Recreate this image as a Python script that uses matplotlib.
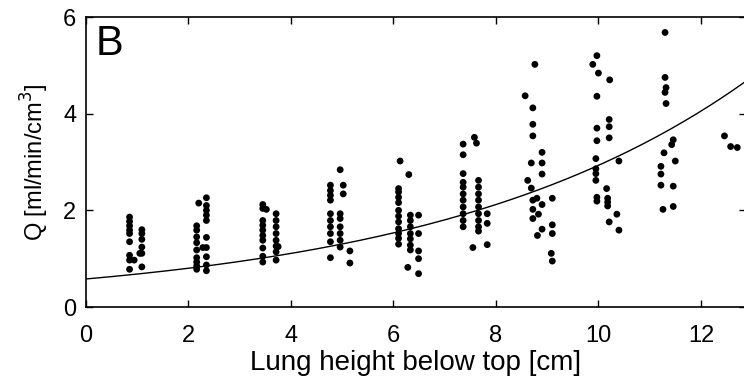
import matplotlib
matplotlib.use('Agg')
import matplotlib.pyplot as plt
import numpy as np

plt.rcParams['font.family'] = ['Liberation Sans', 'DejaVu Sans']

# measured blood flow per lung height level (x in cm, Q in ml/min/cm^3)
height = [0.85, 0.85, 0.85, 0.85, 0.85, 0.85, 0.85, 0.85, 0.85, 0.94,
          1.09, 1.09, 1.09, 1.09, 1.09, 1.09, 1.05,
          2.16, 2.16, 2.16, 2.16, 2.16, 2.16, 2.16, 2.16, 2.16, 2.20,
          2.35, 2.35, 2.35, 2.35, 2.35, 2.35, 2.35, 2.35, 2.35, 2.35, 2.28,
          3.45, 3.45, 3.45, 3.45, 3.45, 3.45, 3.45, 3.45, 3.45, 3.45, 3.52,
          3.71, 3.71, 3.71, 3.71, 3.71, 3.71, 3.71, 3.71, 3.75,
          4.77, 4.77, 4.77, 4.77, 4.77, 4.77, 4.77, 4.77, 4.77, 4.77,
          4.96, 4.96, 4.96, 4.96, 4.96, 4.96, 4.96, 5.02, 5.02, 5.15, 5.15,
          6.13, 6.10, 6.10, 6.10, 6.10, 6.10, 6.10, 6.10, 6.10, 6.10, 6.10, 6.10,
          6.30, 6.33, 6.33, 6.33, 6.33, 6.33, 6.33, 6.33, 6.28,
          6.49, 6.49, 6.49, 6.49, 6.49,
          7.36, 7.36, 7.36, 7.36, 7.36, 7.36, 7.36, 7.36, 7.36, 7.36, 7.36,
          7.58, 7.62, 7.55,
          7.66, 7.66, 7.66, 7.66, 7.66, 7.66, 7.66, 7.66, 7.66,
          7.83, 7.83, 7.83,
          8.57, 8.76, 8.72, 8.72, 8.72, 8.90, 8.69, 8.90, 8.90, 8.62, 8.69,
          8.72, 8.80, 9.10, 8.72, 8.90, 8.83, 8.72, 8.90, 8.81, 9.10, 9.10,
          9.08, 9.10,
          9.97, 9.89, 10.00, 10.22, 9.97, 10.21, 10.21, 10.21, 9.97, 9.97,
          10.40, 9.95, 9.95, 9.95, 9.95, 9.97, 9.97, 10.16, 10.18, 10.18,
          10.18, 10.36, 10.21, 10.40,
          11.30, 11.30, 11.32, 11.30, 11.32, 11.46, 11.43, 11.28, 11.50,
          11.22, 11.22, 11.22, 11.46, 11.26, 11.46,
          12.46, 12.58, 12.71]
flow = [1.86, 1.77, 1.68, 1.59, 1.52, 1.35, 1.07, 0.97, 0.78, 0.97,
        1.60, 1.52, 1.40, 1.24, 1.11, 0.83, 1.11,
        1.68, 1.59, 1.45, 1.33, 1.18, 1.02, 0.93, 0.85, 0.78, 2.15,
        2.26, 2.10, 2.00, 1.90, 1.79, 1.44, 1.23, 1.04, 0.87, 0.75, 1.23,
        2.12, 2.04, 1.79, 1.69, 1.59, 1.48, 1.38, 1.22, 1.05, 0.93, 2.02,
        1.93, 1.79, 1.66, 1.52, 1.38, 1.26, 1.14, 0.97, 1.25,
        2.52, 2.41, 2.31, 2.21, 1.93, 1.79, 1.66, 1.52, 1.35, 1.02,
        2.84, 1.93, 1.83, 1.66, 1.52, 1.38, 1.24, 2.52, 2.34, 1.16, 0.91,
        3.02, 2.45, 2.38, 2.27, 2.16, 2.00, 1.88, 1.76, 1.62, 1.52, 1.42, 1.30,
        2.74, 1.90, 1.79, 1.66, 1.52, 1.41, 1.28, 1.18, 0.82,
        1.90, 1.52, 1.16, 1.00, 0.69,
        3.37, 3.15, 2.76, 2.58, 2.48, 2.34, 2.21, 2.07, 1.93, 1.79, 1.66,
        3.51, 3.39, 1.23,
        2.62, 2.48, 2.34, 2.21, 2.07, 1.93, 1.79, 1.66, 1.57,
        1.93, 1.73, 1.29,
        4.37, 5.02, 4.12, 3.78, 3.54, 3.20, 2.98, 2.98, 2.75, 2.62, 2.46,
        2.21, 2.25, 2.25, 2.02, 2.12, 1.92, 1.83, 1.61, 1.48, 1.70, 1.52,
        1.11, 0.95,
        5.20, 5.02, 4.84, 4.70, 4.36, 3.88, 3.73, 3.50, 3.70, 3.44,
        3.02, 3.07, 2.86, 2.76, 2.62, 2.27, 2.19, 2.45, 2.25, 2.17,
        2.09, 1.92, 1.76, 1.59,
        5.68, 4.75, 4.54, 4.44, 4.21, 3.46, 3.36, 3.19, 3.02,
        2.91, 2.75, 2.52, 2.50, 2.02, 2.08,
        3.54, 3.32, 3.30]

# exponential fit Q = a * exp(b * h)
fit_a = 0.58
fit_b = 0.162

fig = plt.figure(figsize=(7.44, 3.87), dpi=100)
ax = fig.add_axes([86/744, 80/387, 660/744, 290/387])

ax.scatter(height, flow, s=24, c='black', edgecolors='none', zorder=3)
h = np.linspace(0, 12.9, 200)
ax.plot(h, fit_a * np.exp(fit_b * h), color='black', lw=1.0)

ax.set_xlim(0, 12.88)
ax.set_ylim(0, 6)
ax.set_xticks([0, 2, 4, 6, 8, 10, 12])
ax.set_yticks([0, 2, 4, 6])
ax.tick_params(direction='in', top=True, right=True, length=5, width=1,
               labelsize=17)
ax.tick_params(axis='x', pad=13)
ax.tick_params(axis='y', pad=7)
for s in ax.spines.values():
    s.set_linewidth(1.2)

ax.set_xlabel('Lung height below top [cm]', fontsize=20, labelpad=2)
ax.set_ylabel('Q [ml/min/cm$^3$]', fontsize=17, labelpad=9)
ax.text(0.015, 0.975, 'B', transform=ax.transAxes, fontsize=30,
        va='top', ha='left')

fig.savefig('out.png', dpi=100)
